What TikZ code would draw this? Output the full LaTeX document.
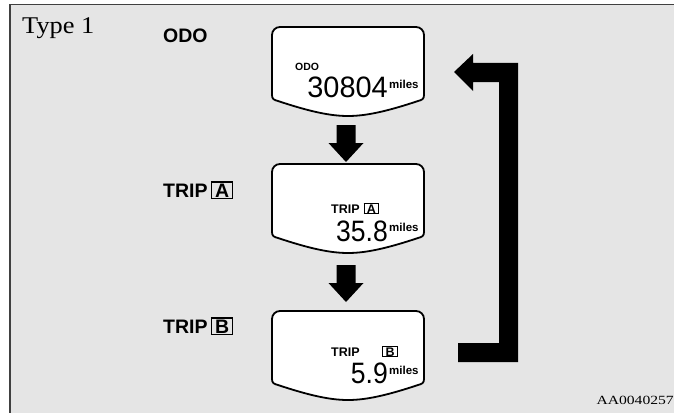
\documentclass[tikz,border=0pt]{standalone}
\usepackage{fontspec}
\setmainfont{Liberation Serif}
\newfontfamily\sansf{Liberation Sans}
\usepackage{graphicx}
\definecolor{bgc}{RGB}{229,229,229}
\newcommand\lcdshape[1]{%
  \begin{scope}[shift={(0,#1)}]
    \draw[lcdline] (280,0) -- (416,0) arc[start angle=-90,end angle=0,radius=8]
      -- (424,68) .. controls (424,72) and (422,73) .. (418,74)
      .. controls (385,85) and (365,89) .. (348,89)
      .. controls (331,89) and (311,85) .. (278,74)
      .. controls (274,73) and (272,72) .. (272,68)
      -- (272,8) arc[start angle=180,end angle=270,radius=8] -- cycle;
  \end{scope}}
\newcommand\downarrowblk[1]{%
  \begin{scope}[shift={(0,#1)}]
    \fill (336.5,0) -- (355.5,0) -- (355.5,18) -- (363.5,18) -- (346,37)
      -- (328.5,18) -- (336.5,18) -- cycle;
  \end{scope}}
\newcommand\bigbox[1]{{\setlength\fboxrule{1.4pt}\setlength\fboxsep{0.8pt}\fbox{\kern2pt #1\kern2pt}}}
\newcommand\smallbox[1]{{\setlength\fboxrule{0.9pt}\setlength\fboxsep{0.4pt}\fbox{\kern2pt #1\kern2pt}}}
\tikzset{
  lcdline/.style={draw=black, line width=1.8pt, fill=white, line join=round},
  biglab/.style={anchor=base west, inner sep=0pt, font=\sansf\bfseries\fontsize{19.5}{20}\selectfont},
  smlab/.style={anchor=base west, inner sep=0pt, font=\sansf\bfseries\fontsize{12.5}{13}\selectfont},
  digits/.style={anchor=base east, inner sep=0pt, font=\sansf\fontsize{29.5}{30}\selectfont},
  milestxt/.style={anchor=base west, inner sep=0pt, font=\sansf\bfseries\fontsize{11.5}{12}\selectfont},
}
\begin{document}
\begin{tikzpicture}[x=1pt,y=-1pt]
\useasboundingbox (0,0) rectangle (674,412);
\fill[white] (0,0) rectangle (674,412);
\clip (0,0) rectangle (674,412);
\draw[line width=1.5pt, draw=black!75, fill=bgc] (9.75,4.75) rectangle (690,430);

\node[anchor=base west, inner sep=0pt, font=\fontsize{24}{24}\selectfont] (type) at (22,34) {\scalebox{1.1}[1]{Type 1}};
\node[anchor=base east, inner sep=0pt, font=\fontsize{12.5}{13}\selectfont] (code) at (674,404) {\scalebox{1.25}[1]{AA0040257}};

% side labels
\node[biglab] (lodo) at (163,43) {ODO};
\node[biglab] (ltripa) at (163,197) {TRIP\,\bigbox{A}};
\node[biglab] (ltripb) at (163,333) {TRIP\,\bigbox{B}};

% displays
\coordinate (d1) at (348,27);
\coordinate (d2) at (348,164);
\coordinate (d3) at (348,311);
\lcdshape{27}
\lcdshape{164}
\lcdshape{311}

% display 1
\node[anchor=base west, inner sep=0pt, font=\sansf\bfseries\fontsize{10.5}{11}\selectfont] (odo) at (295,70.5) {ODO};
\node[digits] (n1) at (388,97) {\scalebox{0.98}[1]{30804}};
\node[milestxt] (m1) at (389,88) {miles};

% display 2
\node[smlab] (trip2) at (331,213) {TRIP\kern4pt\smallbox{A}};
\node[digits] (n2) at (388,241) {\scalebox{0.9}[1]{35.8}};
\node[milestxt] (m2) at (389,231) {miles};

% display 3
\node[smlab] (trip3) at (331,356) {TRIP};
\node[smlab] (b3) at (382,356) {\smallbox{B}};
\node[digits] (n3) at (388,383) {\scalebox{0.9}[1]{5.9}};
\node[milestxt] (m3) at (389,374) {miles};

% down arrows
\downarrowblk{125}
\downarrowblk{265}

% return arrow
\fill (454,72) -- (473,54) -- (473,63) -- (518,63) -- (518,362) -- (458,362)
  -- (458,343) -- (499,343) -- (499,82) -- (473,82) -- (473,91) -- cycle;
\end{tikzpicture}
\end{document}
